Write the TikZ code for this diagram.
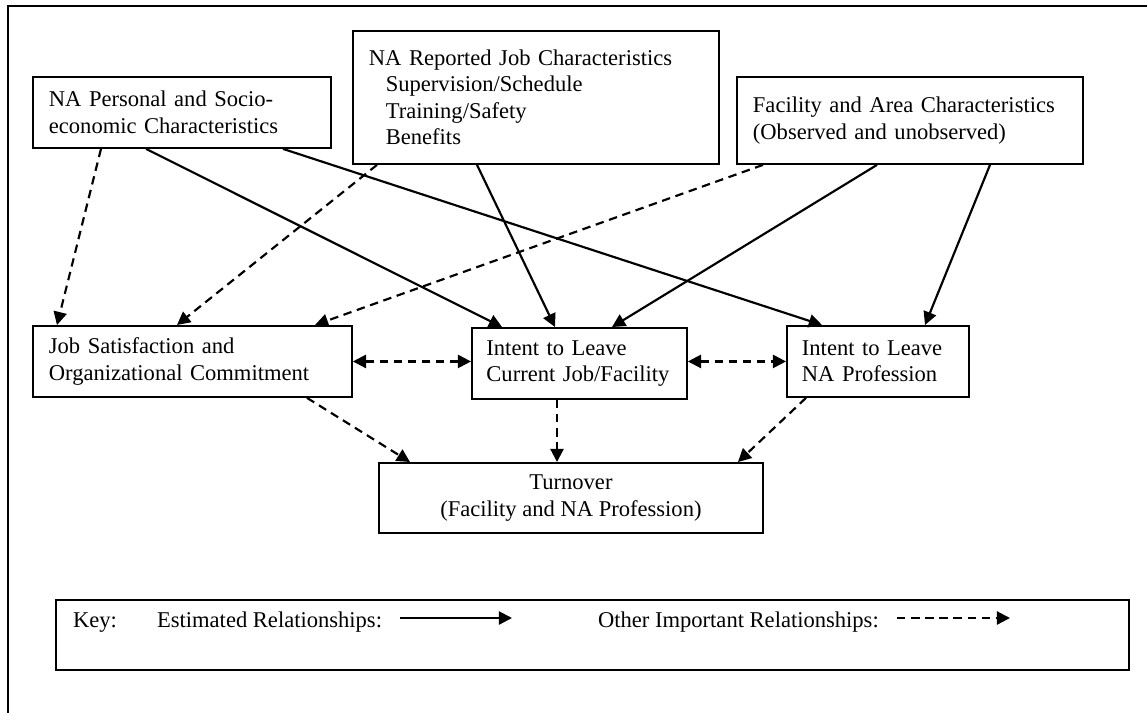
\documentclass[tikz,border=0pt]{standalone}
\usepackage{fontspec}
\setmainfont{Liberation Serif}
\usetikzlibrary{arrows.meta,calc}
\def\px{0.532pt}

\begin{document}
\begin{tikzpicture}[x=\px,y=-\px,line width=1.15pt,>={Triangle[length=7pt,width=7pt]}]
    \tikzstyle{box}=[draw,line width=1pt,anchor=north west,inner xsep=16*\px,inner ysep=0pt,font=\fontsize{12}{14.1}\selectfont]
    \tikzstyle{left box}=[box,align=left]
    \tikzstyle{centre box}=[box,align=center]
    \tikzstyle{estimated rel}=[->]
    \tikzstyle{other rel}=[->,dash pattern=on 4.5pt off 3pt]
    \tikzstyle{both rel}=[<->,dash pattern=on 4.5pt off 3pt]
    \tikzstyle{key text}=[anchor=base west,inner sep=0pt,font=\fontsize{12}{14.1}\selectfont]

    \useasboundingbox (0,0) rectangle (1147,713);

    % Outer frame (only top and left edge show)
    \draw[line width=1pt] (1147,6) -- (8,6) -- (8,713);

    % Draw the top row of boxes
    \node[left box,text width=266*\px,minimum height=71*\px] (A) at (32,76)
        {NA Personal and Socio-\\economic Characteristics};
    \node[left box,text width=334*\px,minimum height=133*\px] (B) at (352,30)
        {NA Reported Job Characteristics\\\hspace*{9pt}Supervision/Schedule\\\hspace*{9pt}Training/Safety\\\hspace*{9pt}Benefits};
    \node[left box,text width=314*\px,minimum height=87*\px] (C) at (736,76)
        {Facility and Area Characteristics\\(Observed and unobserved)};

    % Draw the middle row of boxes
    \node[left box,text width=287*\px,minimum height=71*\px] (D) at (32,325)
        {Job Satisfaction and\\Organizational Commitment};
    \node[left box,inner xsep=14.5*\px,text width=186*\px,minimum height=71*\px] (E) at (471,327)
        {Intent to Leave\\Current Job/Facility};
    \node[left box,inner xsep=15*\px,text width=152*\px,minimum height=71*\px] (F) at (786,325)
        {Intent to Leave\\NA Profession};

    % Draw the outcome box
    \node[centre box,minimum width=384*\px,minimum height=70*\px] (G) at (378,462)
        {Turnover\\(Facility and NA Profession)};

    % Estimated relationships
    \draw[estimated rel] ($(A.south west)+(114,0)$) -- ($(E.north west)+(31,0)$);
    \draw[estimated rel] ($(A.south west)+(251,0)$) -- ($(F.north west)+(36,0)$);
    \draw[estimated rel] ($(B.south west)+(125,0)$) -- ($(E.north west)+(84,0)$);
    \draw[estimated rel] ($(C.south west)+(141,0)$) -- ($(E.north west)+(141,0)$);
    \draw[estimated rel] ($(C.south west)+(254,0)$) -- ($(F.north west)+(139,0)$);

    % Other important relationships
    \draw[other rel] ($(A.south west)+(69,0)$) -- ($(D.north west)+(25,0)$);
    \draw[other rel] ($(B.south west)+(25,0)$) -- ($(D.north west)+(145,0)$);
    \draw[other rel] ($(C.south west)+(27,0)$) -- ($(D.north west)+(283,0)$);
    \draw[both rel] (D.east) -- (D.east -| E.west);
    \draw[both rel] (F.west -| E.east) -- (F.west);
    \draw[other rel] ($(D.south west)+(275,0)$) -- ($(G.north west)+(32,0)$);
    \draw[other rel] ($(E.south west)+(86,0)$) -- ($(G.north west)+(179,0)$);
    \draw[other rel] ($(F.south west)+(20,0)$) -- ($(G.north west)+(360,0)$);

    % The key
    \node[box,minimum width=1073*\px,minimum height=70*\px] (key) at (55,599) {};
    \node[key text] (keylabel) at (72,627) {Key:};
    \node[key text] (estlabel) at (156,627) {Estimated Relationships:};
    \node[key text] (othlabel) at (597,627) {Other Important Relationships:};
    \coordinate (est-a) at (400,618);
    \coordinate (est-b) at (512,618);
    \coordinate (oth-a) at (897,618);
    \coordinate (oth-b) at (1010,618);
    \draw[estimated rel] (est-a) -- (est-b);
    \draw[other rel] (oth-a) -- (oth-b);
\end{tikzpicture}
\end{document}
